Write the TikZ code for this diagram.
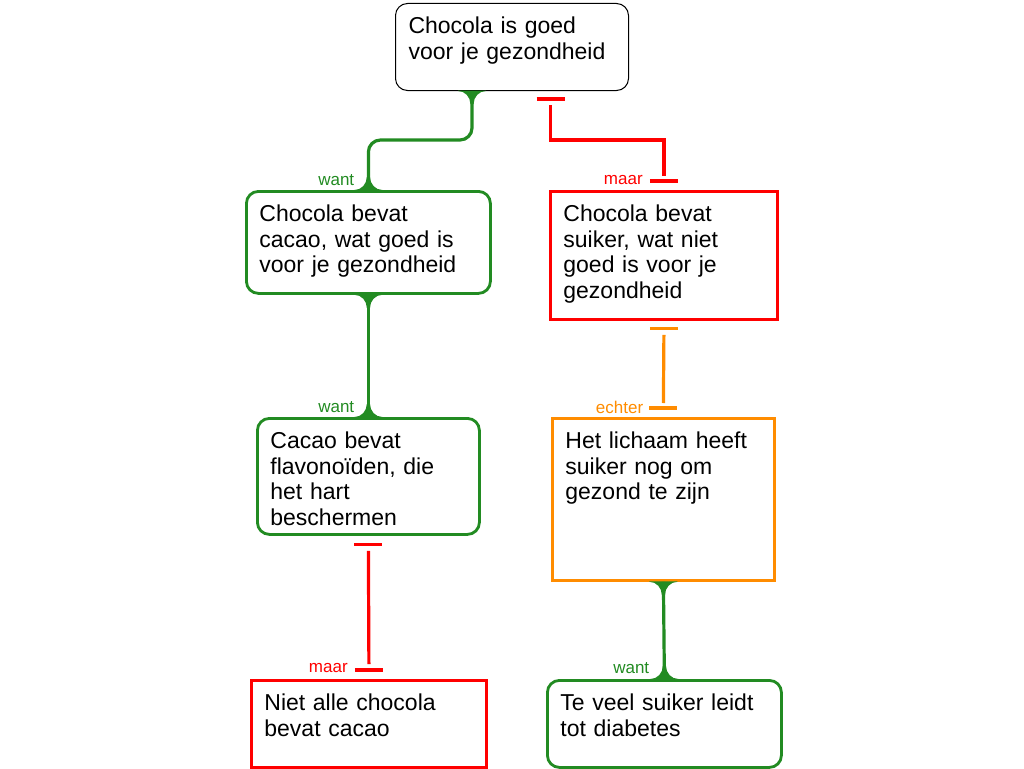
\documentclass[tikz,border=0pt]{standalone}
\usepackage{fontspec}
\setmainfont{Liberation Sans}
\usetikzlibrary{calc}
\definecolor{cgreen}{RGB}{34,139,34}
\definecolor{cred}{RGB}{255,0,0}
\definecolor{corange}{RGB}{255,140,0}
\begin{document}
\begin{tikzpicture}[x=1pt,y=-1pt,
  box/.style={draw, anchor=north west, align=left, inner xsep=13pt, inner ysep=0pt,
    text height=30pt, font=\fontsize{23}{25.7}\selectfont, line width=2.8pt},
  roundbox/.style={box, rounded corners=12pt},
  lbl/.style={anchor=east, font=\fontsize{17}{17}\selectfont, inner sep=0pt},
  conn/.style={line width=3.2pt},
  flaredown/.pic={\fill (-14,-0.5) -- (-14,0) .. controls (-7,0) and (-1.6,6) .. (-1.6,13) -- (1.6,13) .. controls (1.6,6) and (7,0) .. (14,0) -- (14,-0.5) -- cycle;},
  flareup/.pic={\fill (-14,0.5) -- (-14,0) .. controls (-7,0) and (-1.6,-6) .. (-1.6,-13) -- (1.6,-13) .. controls (1.6,-6) and (7,0) .. (14,0) -- (14,0.5) -- cycle;},
]
\useasboundingbox (0,0) rectangle (1024,768);
% boxes
\node[box, rounded corners=12pt, line width=1pt, draw=black, text width=207pt, text depth=57pt] (T) at (395,3) {Chocola is goed\\voor je gezondheid};
\node[roundbox, draw=cgreen, text width=218pt, text depth=72pt] (A) at (245,190) {Chocola bevat\\cacao, wat goed is\\voor je gezondheid};
\node[box, draw=cred, text width=201pt, text depth=98pt] (B) at (549,190) {Chocola bevat\\suiker, wat niet\\goed is voor je\\gezondheid};
\node[roundbox, draw=cgreen, text width=196pt, text depth=86pt] (C) at (256,417) {Cacao bevat\\flavonoïden, die\\het hart\\beschermen};
\node[box, draw=corange, text width=196pt, text depth=132pt] (D) at (551,417) {Het lichaam heeft\\suiker nog om\\gezond te zijn};
\node[box, draw=cred, text width=209pt, text depth=57pt] (E) at (250,679) {Niet alle chocola\\bevat cacao};
\node[roundbox, draw=cgreen, text width=208pt, text depth=57pt] (F) at (546,679) {Te veel suiker leidt\\tot diabetes};

% T -> A (want)
\draw[conn, cgreen, rounded corners=12pt] ([xshift=-40pt]T.south) |- ([yshift=50pt]A.north) -- (A.north);
\pic[cgreen] at ([xshift=-40pt]T.south) {flaredown};
\pic[cgreen] at (A.north) {flareup};
\node[lbl, text=cgreen] (l1) at ([xshift=-14pt,yshift=10pt]A.north) {want};

% T -> B (maar)
\draw[conn, cred] ([xshift=24.5pt,yshift=-8pt]T.south) -- ([xshift=52.5pt,yshift=-8pt]T.south);
\draw[conn, cred] ([xshift=38.5pt,yshift=-14pt]T.south) |- ([yshift=50pt]B.north) -- ([yshift=14pt]B.north);
\draw[conn, cred] ([xshift=-14pt,yshift=9pt]B.north) -- ([xshift=14pt,yshift=9pt]B.north);
\node[lbl, text=cred] (l2) at ([xshift=-21pt,yshift=10pt]B.north) {maar};

% A -> C (want)
\draw[conn, cgreen] (A.south) -- (C.north);
\pic[cgreen] at (A.south) {flaredown};
\pic[cgreen] at (C.north) {flareup};
\node[lbl, text=cgreen] (l3) at ([xshift=-14pt,yshift=10pt]C.north) {want};

% B -> D (echter)
\draw[conn, corange] ([xshift=-14pt,yshift=-8pt]B.south) -- ([xshift=14pt,yshift=-8pt]B.south);
\draw[conn, corange] ([yshift=-14pt]B.south) -- ([yshift=14pt]D.north);
\draw[conn, corange] ([xshift=-14pt,yshift=9pt]D.north) -- ([xshift=14pt,yshift=9pt]D.north);
\node[lbl, text=corange] (l4) at ([xshift=-20pt,yshift=10pt]D.north) {echter};

% C -> E (maar)
\draw[conn, cred] ([xshift=-14pt,yshift=-9pt]C.south) -- ([xshift=14pt,yshift=-9pt]C.south);
\draw[conn, cred] ([yshift=-15pt]C.south) -- ([yshift=15pt]E.north);
\draw[conn, cred] ([xshift=-14pt,yshift=9pt]E.north) -- ([xshift=14pt,yshift=9pt]E.north);
\node[lbl, text=cred] (l5) at ([xshift=-21pt,yshift=11pt]E.north) {maar};

% D -> F (want)
\draw[conn, cgreen] (D.south) -- (F.north);
\pic[cgreen] at (D.south) {flaredown};
\pic[cgreen] at (F.north) {flareup};
\node[lbl, text=cgreen] (l6) at ([xshift=-15pt,yshift=11pt]F.north) {want};
\end{tikzpicture}
\end{document}
